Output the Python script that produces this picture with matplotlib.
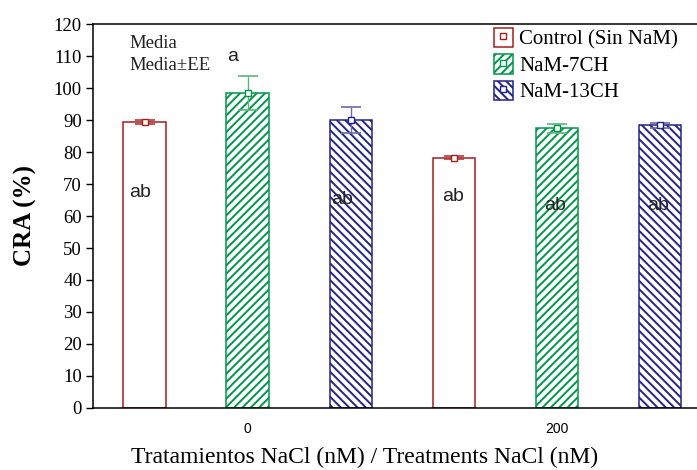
import matplotlib
matplotlib.use("Agg")
import matplotlib.pyplot as plt
import numpy as np
from matplotlib.patches import Patch
from matplotlib.lines import Line2D

# datos: CRA (%) por tratamiento NaCl
grupos = ["0", "200"]
series = ["Control (Sin NaM)", "NaM-7CH", "NaM-13CH"]
medias = [
    [89.4, 98.4, 90.0],   # NaCl 0
    [78.2, 87.4, 88.4],   # NaCl 200
]
errores = [
    [0.6, 5.4, 4.1],
    [0.5, 1.5, 0.8],
]
# letras de significancia y su altura
letras = [["ab", "a", "ab"], ["ab", "ab", "ab"]]
letras_y = [[67.2, 109.7, 65.3], [66.0, 63.4, 63.4]]
letras_dx = [[-0.04, -0.15, -0.08], [-0.01, -0.02, -0.02]]

colores = ["#a81c1c", "#00964a", "#242484"]
colores_err = ["#b03a3a", "#5fb57e", "#6a6aae"]
tramas = ["", "////", "\\\\\\\\"]

plt.rcParams["hatch.linewidth"] = 1.4
serif = "Liberation Serif"
sans = "Liberation Sans"

fig = plt.figure(figsize=(6.97, 4.70), dpi=100)
ax = fig.add_axes([93 / 697, 62 / 470, 1 - 93 / 697, 384 / 470])

ancho = 0.41
pos = 0
ticks = []
for g in range(len(grupos)):
    for s in range(len(series)):
        ax.bar(pos, medias[g][s], width=ancho, facecolor="white",
               edgecolor=colores[s], hatch=tramas[s], linewidth=1.1, zorder=2)
        ax.errorbar(pos, medias[g][s], yerr=errores[g][s], fmt="s",
                    color=colores_err[s], mfc="white", mec=colores[s], ms=5,
                    capsize=7, elinewidth=1.0, capthick=1.2, zorder=3)
        ax.text(pos + letras_dx[g][s], letras_y[g][s], letras[g][s],
                ha="center", va="center", fontsize=14, family=sans,
                color="#222222", zorder=4)
        if s == 1:
            ticks.append(pos)
        pos += 1

ax.set_xlim(-0.5, 5.36)
ax.set_ylim(0, 120)
ax.set_yticks(np.arange(0, 121, 10))
ax.set_xticks(ticks)
ax.set_xticklabels(grupos, family=sans, fontsize=10)
ax.tick_params(axis="x", length=0, pad=10)
ax.tick_params(axis="y", length=5, width=1, direction="out", pad=3)
for lab in ax.get_yticklabels():
    lab.set_family(serif)
    lab.set_fontsize(13.5)
ax.spines["right"].set_visible(False)
for sp in ["left", "top", "bottom"]:
    ax.spines[sp].set_linewidth(1.1)

ax.set_ylabel("CRA (%)", family=serif, fontsize=18, fontweight="bold")
ax.yaxis.set_label_coords(-(93 - 25) / 604, 0.5)
ax.yaxis.label.set_va("center")
ax.set_xlabel("Tratamientos NaCl (nM) / Treatments NaCl (nM)", family=serif,
              fontsize=17)
ax.xaxis.set_label_coords((365 - 93) / 604, -(457 - 408) / 384)
ax.xaxis.label.set_va("center")

fig.text(129 / 697, 1 - 48 / 470, "Media", family=serif, fontsize=13.5, color="#222222")
fig.text(129 / 697, 1 - 70 / 470, "Media\u00b1EE", family=serif, fontsize=13.5, color="#222222")

handles = []
for s in range(len(series)):
    p = Patch(facecolor="white", edgecolor=colores[s], hatch=tramas[s], linewidth=1.1)
    m = Line2D([], [], marker="s", ls="none", mfc="white", mec=colores[s], ms=4)
    handles.append((p, m))
fig.legend(handles, series, loc="upper left",
           bbox_to_anchor=(494 / 697, 1 - 28 / 470), frameon=False,
           prop={"family": serif, "size": 15}, borderpad=0, borderaxespad=0,
           handlelength=0.9, handleheight=1.05, handletextpad=0.3,
           labelspacing=0.22)

fig.savefig("out.png", dpi=100)
